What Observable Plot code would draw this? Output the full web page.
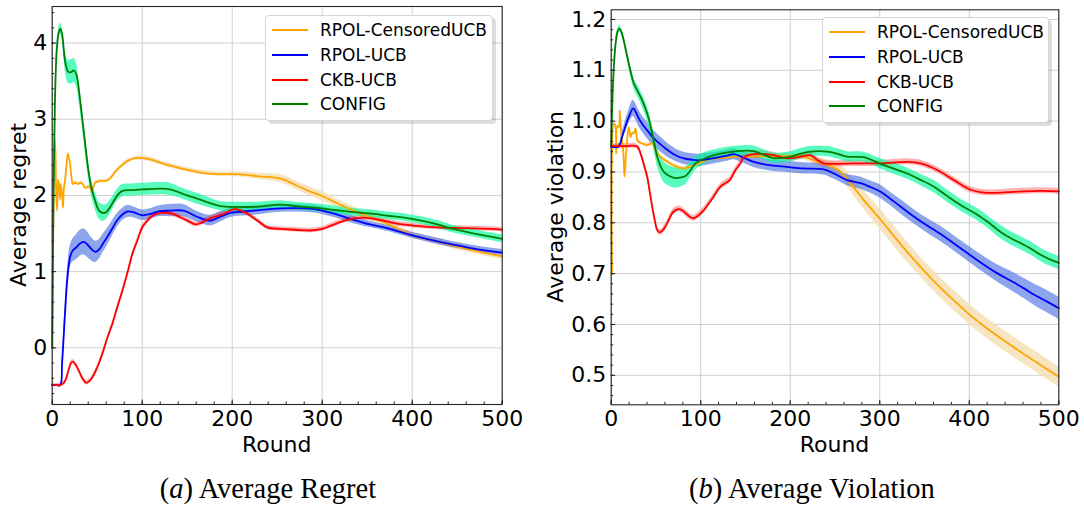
<!DOCTYPE html>
<html>
<head>
<meta charset="utf-8">
<script src="https://cdn.jsdelivr.net/npm/d3@7"></script>
<script src="https://cdn.jsdelivr.net/npm/@observablehq/plot@0.6"></script>
<style>
  body { margin: 0; background: #fff; }
  #wrap { position: relative; width: 1084px; height: 508px; overflow: hidden; background: #fff; }
  .panel { position: absolute; top: 0; }
  .legend { position: absolute; background: #fff; border: 1px solid #d4d4d4; border-radius: 4px;
            box-shadow: 3px 3px 0 rgba(0,0,0,0.13); font-family: "DejaVu Sans"; font-size: 17px; color: #000; }
  .legend .sw { position: absolute; height: 2px; }
  .legend .lb { position: absolute; height: 20px; line-height: 20px; white-space: nowrap; }
  #overlay { position: absolute; left: 0; top: 0; pointer-events: none; }
</style>
</head>
<body>
<div id="wrap"></div>
<script>
// ---------- data ----------
const names = ["RPOL-CensoredUCB", "RPOL-UCB", "CKB-UCB", "CONFIG"];
const lineColors = ["#FFA500", "#0000FF", "#FF0000", "#008000"];
const bandColors = ["#f5deb3", "#4169e1", "#ff0000", "#00fa9a"];
const bandOpacity = [0.8, 0.6, 0.3, 0.65];

const roundTicks = [0, 100, 200, 300, 400, 500];
const regretTicks = [0, 1, 2, 3, 4];
const violationTicks = [0.5, 0.6, 0.7, 0.8, 0.9, 1.0, 1.1, 1.2];

// [round, mean, band half-width]
const regretCensored = [[0,0.00,0.01],[1,1.50,0.02],[2.5,2.76,0.02],[3.5,2.60,0.02],[4.5,2.00,0.02],[5.5,1.80,0.02],[6.5,2.20,0.02],[7.5,2.15,0.02],[8.5,1.95,0.02],[9.5,2.15,0.02],[11,2.00,0.02],[12,1.84,0.02],[13,2.10,0.02],[14,2.17,0.02],[16,2.41,0.02],[17.5,2.55,0.02],[19.5,2.45,0.02],[21.5,2.23,0.02],[23,2.15,0.02],[26,2.17,0.02],[29,2.15,0.02],[32,2.17,0.02],[37,2.10,0.02],[41,2.12,0.02],[44,2.05,0.02],[48,2.17,0.02],[54,2.19,0.02],[60,2.19,0.02],[65,2.23,0.02],[70,2.31,0.02],[78,2.40,0.025],[85,2.46,0.025],[93,2.49,0.025],[100,2.49,0.03],[110,2.47,0.03],[120,2.43,0.03],[131,2.39,0.03],[145,2.35,0.03],[165,2.30,0.03],[185,2.28,0.03],[200,2.28,0.03],[215,2.27,0.035],[230,2.25,0.04],[254,2.22,0.05],[268,2.15,0.055],[285,2.06,0.06],[302,1.98,0.06],[318,1.89,0.055],[335,1.80,0.05],[352,1.72,0.045],[372,1.63,0.04],[385,1.56,0.04],[402,1.47,0.04],[420,1.42,0.04],[439,1.36,0.04],[460,1.30,0.04],[487,1.23,0.04],[500,1.20,0.04]];
const regretRpol = [[0,-0.49,0.01],[5,-0.49,0.01],[9,-0.49,0.02],[11,-0.20,0.05],[13,0.20,0.08],[15,0.60,0.10],[17,0.93,0.12],[20,1.20,0.14],[23,1.28,0.15],[26,1.31,0.16],[30,1.36,0.17],[34,1.39,0.17],[37,1.38,0.17],[41,1.33,0.16],[45,1.28,0.15],[48,1.26,0.14],[52,1.29,0.13],[57,1.38,0.12],[62,1.47,0.11],[67,1.57,0.10],[72,1.67,0.09],[78,1.75,0.08],[84,1.79,0.08],[90,1.78,0.07],[100,1.74,0.07],[110,1.76,0.07],[118,1.79,0.07],[131,1.80,0.08],[146,1.80,0.08],[161,1.72,0.07],[176,1.67,0.07],[187,1.72,0.07],[198,1.77,0.06],[224,1.80,0.06],[254,1.83,0.05],[291,1.82,0.05],[313,1.76,0.05],[335,1.68,0.05],[353,1.62,0.04],[372,1.57,0.04],[402,1.47,0.04],[420,1.42,0.04],[439,1.37,0.04],[465,1.31,0.04],[487,1.27,0.04],[500,1.25,0.04]];
const regretCkb = [[0,-0.49,0.02],[5,-0.49,0.02],[9,-0.49,0.02],[12,-0.47,0.02],[15,-0.42,0.02],[18,-0.30,0.02],[21,-0.20,0.03],[23,-0.18,0.03],[26,-0.22,0.03],[30,-0.31,0.03],[34,-0.41,0.03],[38,-0.46,0.03],[42,-0.43,0.03],[46,-0.36,0.03],[51,-0.23,0.03],[56,-0.07,0.03],[61,0.12,0.03],[67,0.32,0.03],[72,0.52,0.03],[78,0.75,0.03],[84,1.00,0.03],[89,1.23,0.03],[95,1.42,0.03],[100,1.58,0.03],[106,1.67,0.03],[111,1.73,0.03],[120,1.77,0.03],[133,1.76,0.03],[143,1.71,0.03],[152,1.66,0.03],[159,1.62,0.03],[166,1.64,0.03],[172,1.68,0.03],[181,1.72,0.03],[191,1.76,0.03],[202,1.82,0.03],[210,1.80,0.03],[217,1.76,0.03],[228,1.67,0.03],[239,1.58,0.03],[254,1.56,0.03],[270,1.55,0.03],[287,1.54,0.03],[300,1.56,0.03],[309,1.60,0.03],[320,1.65,0.03],[331,1.69,0.03],[345,1.71,0.03],[354,1.70,0.03],[368,1.67,0.03],[383,1.63,0.03],[405,1.60,0.03],[428,1.58,0.03],[460,1.57,0.03],[487,1.56,0.03],[500,1.55,0.03]];
const regretConfig = [[0,0.00,0.02],[1.5,2.00,0.04],[3,3.20,0.06],[5,3.90,0.07],[7,4.12,0.07],[9,4.19,0.07],[11,4.12,0.08],[13,3.90,0.10],[15,3.72,0.13],[18,3.62,0.15],[21,3.62,0.16],[24,3.64,0.16],[27,3.58,0.15],[30,3.35,0.13],[33,3.05,0.12],[36,2.75,0.11],[40,2.35,0.10],[44,2.08,0.10],[48,1.92,0.11],[52,1.80,0.11],[56,1.77,0.11],[60,1.78,0.10],[64,1.84,0.09],[68,1.92,0.08],[73,2.01,0.08],[78,2.06,0.08],[89,2.07,0.08],[100,2.08,0.08],[122,2.09,0.08],[131,2.08,0.08],[141,2.04,0.07],[150,2.00,0.07],[168,1.93,0.07],[187,1.86,0.06],[205,1.85,0.06],[224,1.85,0.06],[254,1.88,0.05],[270,1.86,0.05],[291,1.84,0.05],[313,1.81,0.05],[335,1.78,0.05],[355,1.76,0.05],[375,1.73,0.05],[391,1.71,0.05],[410,1.67,0.05],[428,1.62,0.05],[445,1.56,0.05],[465,1.51,0.05],[487,1.46,0.05],[500,1.43,0.05]];

const violCensored = [[1,0.700,0.003],[3,0.995,0.003],[4.5,0.992,0.003],[5.6,0.937,0.003],[6.7,0.989,0.003],[8.5,0.989,0.003],[9.6,1.021,0.003],[11.1,0.976,0.003],[13.4,0.943,0.003],[14.9,0.891,0.003],[16.4,0.930,0.003],[17.8,0.963,0.003],[19.7,0.988,0.003],[21.6,0.969,0.003],[23.4,0.976,0.003],[25.3,0.976,0.003],[27.2,0.985,0.003],[29,0.963,0.003],[30.9,0.959,0.003],[34.6,0.956,0.003],[40,0.953,0.004],[45.8,0.956,0.004],[49.5,0.943,0.004],[55,0.930,0.004],[62.6,0.920,0.004],[73.7,0.910,0.004],[81,0.907,0.004],[92,0.913,0.004],[107,0.924,0.004],[125,0.928,0.004],[145,0.930,0.004],[174,0.931,0.005],[200,0.931,0.005],[215,0.930,0.006],[230,0.920,0.008],[241,0.914,0.010],[256,0.901,0.013],[267,0.878,0.015],[282,0.845,0.018],[301,0.806,0.020],[320,0.765,0.020],[340,0.724,0.020],[360,0.686,0.020],[380,0.652,0.020],[400,0.620,0.020],[420,0.592,0.020],[440,0.567,0.020],[460,0.543,0.020],[480,0.520,0.020],[500,0.497,0.020]];
const violRpol = [[0,0.950,0.003],[8.5,0.950,0.005],[12,0.968,0.008],[16,0.990,0.011],[20,1.010,0.014],[24.6,1.025,0.016],[27.5,1.018,0.016],[30.9,1.005,0.016],[34.5,0.995,0.016],[38.3,0.986,0.016],[43,0.976,0.016],[47.6,0.966,0.015],[54,0.956,0.015],[60.7,0.946,0.014],[68,0.937,0.013],[75.5,0.930,0.012],[83,0.926,0.012],[90.5,0.924,0.012],[98,0.923,0.012],[107,0.925,0.012],[118,0.928,0.011],[129.6,0.932,0.011],[137,0.935,0.011],[148,0.928,0.011],[159.3,0.920,0.011],[174.3,0.914,0.011],[196.6,0.910,0.011],[215.2,0.907,0.011],[237.5,0.905,0.011],[248.7,0.897,0.011],[263.7,0.884,0.011],[278.5,0.878,0.012],[290,0.870,0.012],[301,0.861,0.013],[312,0.847,0.013],[323.2,0.832,0.014],[345.6,0.803,0.014],[368,0.778,0.015],[390.3,0.750,0.015],[412.6,0.722,0.016],[430,0.702,0.017],[449.5,0.683,0.019],[462,0.670,0.020],[473,0.658,0.021],[487,0.645,0.022],[500,0.632,0.022]];
const violCkb = [[0,0.951,0.005],[15,0.951,0.005],[29,0.950,0.005],[32.7,0.937,0.006],[36.5,0.915,0.006],[40.2,0.891,0.006],[43,0.862,0.006],[45.8,0.832,0.006],[48.6,0.806,0.006],[51.4,0.786,0.006],[54.3,0.781,0.006],[57.5,0.785,0.006],[60.7,0.793,0.006],[64.5,0.806,0.006],[68.2,0.819,0.006],[72,0.825,0.006],[76.3,0.827,0.006],[80.5,0.823,0.006],[84.9,0.816,0.006],[88.5,0.811,0.006],[92.3,0.809,0.006],[97,0.814,0.006],[103.5,0.825,0.006],[109,0.838,0.006],[114.6,0.852,0.006],[122,0.871,0.006],[129.4,0.880,0.006],[133,0.885,0.006],[138.9,0.904,0.006],[144.5,0.917,0.006],[148.2,0.929,0.006],[159.3,0.935,0.006],[178,0.934,0.006],[196.6,0.927,0.006],[211.5,0.930,0.006],[222.7,0.933,0.006],[230,0.924,0.006],[237.5,0.917,0.006],[271,0.917,0.006],[301,0.917,0.006],[330.7,0.920,0.006],[345.6,0.917,0.006],[364.2,0.904,0.006],[382.8,0.884,0.006],[401.5,0.865,0.006],[420,0.859,0.006],[449.8,0.861,0.006],[479.7,0.863,0.006],[500,0.862,0.006]];
const violConfig = [[0,0.950,0.004],[1.5,1.050,0.005],[3,1.107,0.006],[4.8,1.150,0.006],[7,1.175,0.006],[9.3,1.182,0.006],[11.5,1.175,0.006],[14,1.159,0.007],[17,1.135,0.008],[19.7,1.113,0.009],[22.5,1.092,0.010],[25.3,1.074,0.010],[29,1.061,0.011],[32.7,1.048,0.012],[36.5,1.033,0.013],[40.2,1.015,0.014],[43,0.998,0.015],[45.8,0.976,0.016],[48.6,0.952,0.017],[51.4,0.930,0.018],[55,0.912,0.019],[58.8,0.900,0.020],[65,0.892,0.020],[71.8,0.888,0.020],[77,0.889,0.019],[83,0.892,0.017],[88,0.902,0.015],[94.2,0.917,0.013],[100,0.923,0.012],[107.3,0.929,0.011],[122,0.936,0.010],[140.8,0.941,0.010],[159.3,0.941,0.010],[170,0.934,0.010],[181.7,0.927,0.010],[200.3,0.930,0.010],[212,0.936,0.010],[222.7,0.940,0.010],[241.3,0.940,0.010],[252,0.936,0.010],[263.7,0.930,0.010],[282,0.929,0.010],[301,0.916,0.010],[315,0.907,0.011],[330.7,0.897,0.011],[345,0.885,0.011],[360.5,0.871,0.012],[375,0.853,0.012],[390.3,0.835,0.012],[409,0.816,0.012],[422,0.800,0.012],[435,0.782,0.013],[447,0.769,0.013],[457.3,0.760,0.013],[469,0.749,0.013],[479.7,0.737,0.013],[490,0.728,0.013],[500,0.721,0.013]];

// ---------- drawing ----------
const toRows = arr => arr.map(([r, v, w]) => ({r, v, lo: v - w, hi: v + w}));
const wrap = d3.select("#wrap");
const FONT = "DejaVu Sans";

function makePanel({left, seriesData, yDomain, yTicks, yMinor, yFormat, margins}) {
  const series = seriesData.map(toRows);
  const xMinor = d3.range(0, 501, 20);
  const gridStyle = {stroke: "#d0d0d0", strokeOpacity: 1, strokeWidth: 1};
  const marks = [
    Plot.gridX(roundTicks, gridStyle),
    Plot.gridY(yTicks, gridStyle),
    ...series.map((rows, i) => Plot.areaY(rows, {x: "r", y1: "lo", y2: "hi", fill: bandColors[i], fillOpacity: bandOpacity[i], curve: "catmull-rom"})),
    ...series.map((rows, i) => Plot.lineY(rows, {x: "r", y: "v", stroke: lineColors[i], strokeWidth: 1.8, curve: "catmull-rom"})),
    Plot.axisX(roundTicks, {tickSize: 0, tickPadding: 6, fontSize: 22, label: null, tickFormat: d => String(d)}),
    Plot.axisX(xMinor, {tickSize: -2.5, fill: "none", label: null, stroke: "#222"}),
    Plot.axisX(roundTicks, {tickSize: -4.5, fill: "none", label: null, stroke: "#222"}),
    Plot.axisY(yTicks, {tickSize: 0, tickPadding: 5, fontSize: 22, label: null, tickFormat: yFormat}),
    Plot.axisY(yMinor, {tickSize: -2.5, fill: "none", label: null, stroke: "#222"}),
    Plot.axisY(yTicks, {tickSize: -4.5, fill: "none", label: null, stroke: "#222"}),
    Plot.frame({stroke: "#262626", strokeWidth: 1.1})
  ];
  const svg = Plot.plot({
    width: 542, height: 460, ...margins,
    x: {domain: [0, 500]},
    y: {domain: yDomain},
    style: {fontFamily: FONT, background: "transparent", color: "#000", overflow: "visible"},
    marks
  });
  wrap.append("div").attr("class", "panel").style("left", left + "px").node().appendChild(svg);
}

makePanel({
  left: 0,
  seriesData: [regretCensored, regretRpol, regretCkb, regretConfig],
  yDomain: [-0.744, 4.48],
  yTicks: regretTicks,
  yMinor: d3.range(-0.6, 4.41, 0.2),
  yFormat: d => String(d),
  margins: {marginLeft: 51.7, marginRight: 40.3, marginTop: 6, marginBottom: 56}
});
makePanel({
  left: 542,
  seriesData: [violCensored, violRpol, violCkb, violConfig],
  yDomain: [0.442, 1.219],
  yTicks: violationTicks,
  yMinor: d3.range(0.46, 1.215, 0.02),
  yFormat: d3.format(".1f"),
  margins: {marginLeft: 68.7, marginRight: 25.7, marginTop: 9.3, marginBottom: 55.7}
});

// legends
function legend(x, y, w, h) {
  const box = wrap.append("div").attr("class", "legend")
    .style("left", x + "px").style("top", y + "px").style("width", w + "px").style("height", h + "px");
  names.forEach((n, i) => {
    const cy = 14 + 24.8 * i;
    box.append("div").attr("class", "sw").style("left", "6px").style("width", "36px")
      .style("top", (cy - 1) + "px").style("background", lineColors[i]);
    box.append("div").attr("class", "lb").style("left", "54px").style("top", (cy - 10) + "px").text(n);
  });
}
legend(265, 15, 226, 104);
legend(822, 17, 225, 104);

// overlay text: axis titles and captions
const ov = wrap.append("svg").attr("id", "overlay").attr("width", 1084).attr("height", 508);
const ylab = [["Average regret", 26, 205], ["Average violation", 562.6, 206.8]];
ylab.forEach(([t, x, y]) => ov.append("text").attr("transform", `translate(${x},${y}) rotate(-90)`)
  .attr("text-anchor", "middle").attr("font-family", FONT).attr("font-size", 22).attr("fill", "#000").text(t));
[[276.7, 451.7], [834.5, 451.7]].forEach(([x, y]) => ov.append("text").attr("x", x).attr("y", y)
  .attr("text-anchor", "middle").attr("font-family", FONT).attr("font-size", 22).attr("fill", "#000").text("Round"));
const captions = [["a", "Average Regret", 268], ["b", "Average Violation", 812]];
captions.forEach(([k, t, x]) => {
  const tx = ov.append("text").attr("x", x).attr("y", 498).attr("text-anchor", "middle")
    .attr("font-family", "Liberation Serif").attr("font-size", 28.5).attr("fill", "#000");
  tx.append("tspan").text("(");
  tx.append("tspan").attr("font-style", "italic").text(k);
  tx.append("tspan").text(") " + t);
});
</script>
</body>
</html>
